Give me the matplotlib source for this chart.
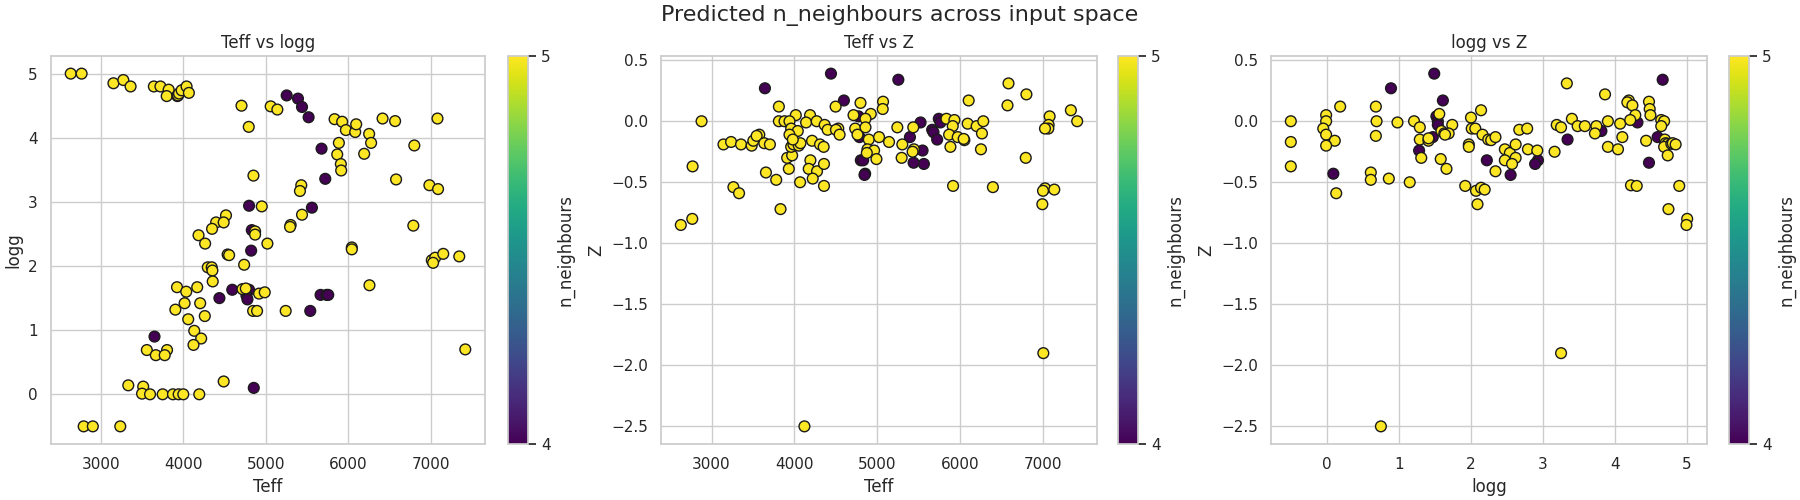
import numpy as np
import matplotlib
matplotlib.use("Agg")
import matplotlib.pyplot as plt
import seaborn as sns

# panel 1: Teff vs logg
p1_teff_5 = [2635, 2767, 3153, 3273, 3361, 3643, 3723, 3823, 3799, 3928, 3936, 3948, 3980, 4040, 4068,
             4706, 4794, 5060, 5141, 5835, 5927, 5972, 6085, 6097, 6254, 6278, 6417, 6569, 7083, 6802,
             6194, 5887, 5867, 5911, 5915, 6581, 6985, 7090, 4851, 5431, 5415, 4952, 5440, 4518, 4398,
             4490, 4349, 4185, 4265, 4538, 4297, 4345, 4353, 4357, 3924, 4036, 4169, 4016, 4205, 3904,
             4060, 4261, 4133, 4217, 4124, 3558, 3803, 3667, 3775, 3333, 3514, 4490, 3500, 3597, 3750,
             3875, 3944, 4000, 4194, 2792, 2903, 3236, 5302, 5295, 4871, 4871, 5020, 4556, 4738, 6044,
             6044, 6790, 6258, 7014, 7055, 7153, 7347, 7030, 4718, 4758, 4919, 4988, 4847, 4895, 5242,
             7420]
p1_logg_5 = [5.0, 5.0, 4.85, 4.90, 4.80, 4.80, 4.80, 4.75, 4.65, 4.65, 4.66, 4.69, 4.74, 4.80, 4.70,
             4.50, 4.17, 4.49, 4.44, 4.29, 4.25, 4.12, 4.09, 4.21, 4.06, 3.92, 4.30, 4.26, 4.30, 3.88,
             3.75, 3.92, 3.74, 3.59, 3.49, 3.35, 3.26, 3.20, 3.41, 3.26, 3.17, 2.93, 2.80, 2.79, 2.68,
             2.68, 2.58, 2.48, 2.35, 2.18, 1.98, 1.98, 1.93, 1.76, 1.67, 1.60, 1.67, 1.42, 1.42, 1.32,
             1.17, 1.22, 0.99, 0.87, 0.77, 0.69, 0.69, 0.61, 0.61, 0.14, 0.12, 0.20, 0.01, 0.0, 0.0,
             0.0, 0.0, 0.0, 0.0, -0.5, -0.5, -0.5, 2.64, 2.61, 2.54, 2.49, 2.35, 2.17, 2.02, 2.29,
             2.26, 2.63, 1.70, 2.09, 2.13, 2.19, 2.15, 2.05, 1.64, 1.65, 1.57, 1.59, 1.30, 1.30, 1.30,
             0.70]
p1_teff_4 = [5254, 5391, 5440, 5520, 5677, 5722, 4798, 5560, 4831, 4823, 4594, 4438, 3651, 4798, 4766,
             4778, 5540, 5665, 5738, 5758, 4855]
p1_logg_4 = [4.66, 4.61, 4.48, 4.32, 3.83, 3.36, 2.94, 2.91, 2.56, 2.24, 1.63, 1.50, 0.90, 1.63, 1.54,
             1.48, 1.30, 1.55, 1.55, 1.55, 0.10]

# panel 2: Teff vs Z
p2_teff_5 = [2880, 2772, 2768, 2630, 3144, 3236, 3356, 3484, 3504, 3576, 3544, 3636, 3704, 3656, 3264,
             3332, 3812, 4496, 4796, 5068, 5064, 4920, 4712, 4856, 4016, 4188, 3812, 3880, 3940, 4140,
             4268, 4364, 3960, 4040, 3940, 4400, 4528, 4500, 4544, 4732, 4760, 4856, 4896, 5020, 5140,
             5240, 5432, 5300, 5832, 5928, 5908, 5864, 5968, 5880, 5440, 5424, 5292, 5912, 3780, 3832,
             4068, 3932, 3912, 3972, 3960, 3988, 4052, 4072, 3980, 4212, 4308, 4352, 4192, 4172, 4272,
             4356, 4220, 4356, 4880, 4960, 4872, 4988, 6048, 6040, 6088, 6196, 6276, 6260, 6248, 6100,
             6580, 6796, 6568, 7076, 7064, 7060, 7020, 7332, 7408, 6788, 6392, 7020, 6996, 7132, 6988,
             7000, 4120]
p2_z_5 = [0.0, -0.37, -0.80, -0.85, -0.19, -0.17, -0.19, -0.20, -0.16, -0.11, -0.12, -0.18, -0.19, -0.42, -0.54,
          -0.59, 0.12, 0.12, 0.15, 0.16, 0.10, 0.06, 0.05, 0.02, 0.05, 0.05, 0.0, 0.0, 0.0, -0.01,
          0.0, -0.03, -0.06, -0.08, -0.11, -0.07, -0.06, -0.07, -0.11, -0.06, -0.11, -0.05, -0.15, -0.13, -0.17,
          -0.05, -0.05, -0.19, 0.02, 0.01, -0.04, -0.11, -0.13, -0.21, -0.23, -0.25, -0.30, -0.53, -0.48, -0.72,
          -0.50, -0.39, -0.30, -0.28, -0.21, -0.19, -0.20, -0.18, -0.15, -0.16, -0.19, -0.21, -0.32, -0.39, -0.41,
          -0.35, -0.47, -0.53, -0.23, -0.24, -0.26, -0.31, -0.155, -0.145, -0.02, -0.04, 0.0, -0.10, -0.23, 0.17,
          0.31, 0.22, 0.13, 0.04, -0.03, -0.06, -0.06, 0.09, 0.0, -0.30, -0.54, -0.55, -0.57, -0.56, -0.68,
          -1.90, -2.50]
p2_teff_4 = [3644, 4440, 4596, 5252, 4772, 4784, 5520, 5392, 5660, 5676, 5720, 5740, 5760, 5544, 5436,
             5560, 4800, 4828, 4852, 4844]
p2_z_4 = [0.27, 0.39, 0.17, 0.34, 0.04, -0.13, -0.01, -0.13, -0.07, -0.09, -0.15, 0.02, -0.01, -0.24, -0.34,
          -0.35, -0.32, -0.32, -0.43, -0.44]

# panel 3: logg vs Z
p3_logg_5 = [-0.5, -0.5, -0.5, 0.185, -0.01, -0.01, -0.05, -0.01, 0.11, -0.01, 0.13, 0.68, 0.69, 0.68, 0.98,
             0.61, 0.61, 0.86, 1.15, 1.21, 1.29, 1.29, 1.41, 1.41, 1.31, 1.56, 1.74, 1.59, 1.63, 1.69,
             1.64, 1.58, 1.66, 1.92, 2.07, 2.14, 2.19, 2.09, 2.0, 2.14, 2.01, 2.06, 2.16, 2.24, 1.97,
             1.97, 2.28, 2.34, 2.34, 3.33, 2.67, 2.78, 2.47, 2.54, 2.62, 2.62, 2.47, 2.57, 2.79, 2.92,
             3.16, 3.19, 3.25, 3.40, 3.48, 3.58, 3.74, 3.72, 3.90, 3.86, 4.07, 4.10, 3.90, 4.04, 4.19,
             4.17, 4.24, 4.47, 4.48, 4.49, 4.28, 4.21, 4.64, 4.68, 4.64, 4.43, 4.69, 4.70, 4.73, 4.68,
             4.78, 4.80, 4.84, 4.73, 4.22, 4.30, 4.89, 4.74, 5.0, 4.99, 3.25, 0.75]
p3_z_5 = [0.0, -0.17, -0.37, 0.12, 0.05, 0.0, -0.06, -0.11, -0.16, -0.20, -0.59, 0.12, 0.0, -0.12, -0.01,
          -0.42, -0.48, -0.47, -0.50, 0.0, -0.05, -0.15, -0.16, -0.14, -0.30, 0.06, -0.03, -0.08, -0.10, -0.10,
          -0.11, -0.31, -0.39, -0.53, -0.57, -0.545, -0.56, -0.68, 0.03, 0.09, -0.06, -0.06, -0.11, -0.15, -0.19,
          -0.21, -0.155, -0.13, -0.41, 0.31, -0.07, -0.06, -0.23, -0.26, -0.19, -0.30, -0.32, -0.35, -0.23, -0.24,
          -0.25, -0.03, -0.05, 0.02, -0.04, -0.04, -0.04, -0.10, 0.0, 0.22, -0.02, -0.13, -0.21, -0.23, 0.17,
          0.155, 0.13, 0.16, 0.10, 0.05, 0.05, 0.01, 0.01, 0.0, -0.04, -0.16, -0.15, -0.18, -0.185, -0.21,
          -0.185, -0.18, -0.19, -0.28, -0.525, -0.53, -0.53, -0.72, -0.80, -0.85, -1.90, -2.50]
p3_logg_4 = [0.09, 0.89, 1.28, 1.49, 1.61, 1.52, 1.54, 1.54, 1.47, 2.22, 2.55, 2.93, 2.89, 3.34, 3.81,
             4.31, 4.66, 4.59, 4.47]
p3_z_4 = [-0.43, 0.27, -0.24, 0.39, 0.17, 0.04, 0.0, -0.03, -0.13, -0.32, -0.44, -0.32, -0.35, -0.15, -0.08,
          -0.01, 0.34, -0.13, -0.34]

sns.set_theme(style="whitegrid")

W, H = 1800, 500
fig = plt.figure(figsize=(18, 5), dpi=100)

panels = [
    ("Teff vs logg", "Teff", "logg", p1_teff_4, p1_logg_4, p1_teff_5, p1_logg_5, 51, 485, 508, 528),
    ("Teff vs Z", "Teff", "Z", p2_teff_4, p2_z_4, p2_teff_5, p2_z_5, 661, 1097, 1118, 1138),
    ("logg vs Z", "logg", "Z", p3_logg_4, p3_z_4, p3_logg_5, p3_z_5, 1271, 1707, 1729, 1749),
]
top, bottom = 56, 444

for title, xlab, ylab, x4, y4, x5, y5, left, right, cleft, cright in panels:
    ax = fig.add_axes([left / W, 1 - bottom / H, (right - left) / W, (bottom - top) / H])
    x = np.array(list(x4) + list(x5))
    y = np.array(list(y4) + list(y5))
    n = np.array([4] * len(x4) + [5] * len(x5))
    sc = ax.scatter(x, y, c=n, cmap="viridis", vmin=4, vmax=5, s=60, edgecolor="k", linewidth=1, zorder=3)
    ax.set_title(title, fontsize=12)
    ax.set_xlabel(xlab, fontsize=12)
    ax.set_ylabel(ylab, fontsize=12)
    cax = fig.add_axes([cleft / W, 1 - bottom / H, (cright - cleft) / W, (bottom - top) / H])
    cb = fig.colorbar(sc, cax=cax, label="n_neighbours")
    cb.set_ticks([4, 5])
    cax.tick_params(right=True, length=6, width=1.25, color=".15")

fig.suptitle("Predicted n_neighbours across input space", fontsize=16, x=0.5, y=0.99)
fig.savefig("out.png", dpi=100)
